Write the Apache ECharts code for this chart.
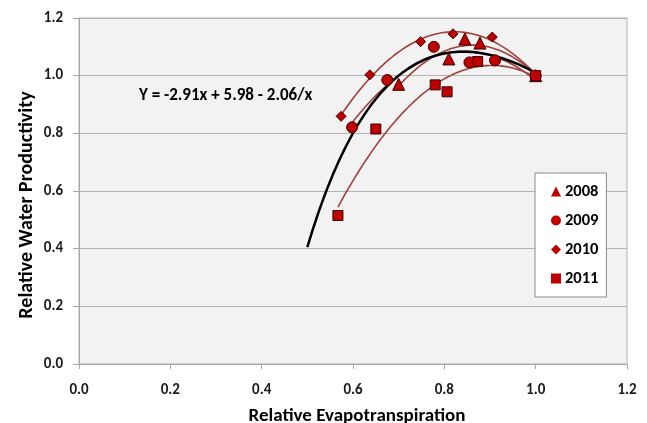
<!DOCTYPE html>
<html><head><meta charset="utf-8">
<script src="https://cdn.jsdelivr.net/npm/echarts@6/dist/echarts.min.js"></script>
<style>html,body{margin:0;padding:0;background:#fff}#c{width:647px;height:423px}</style>
</head><body><div id="c"></div>
<script>
const years = ['2008','2009','2010','2011'];
const et2008 = [0.70, 0.81, 0.845, 0.878, 1.0];
const wp2008 = [0.97, 1.058, 1.127, 1.113, 1.0];
const et2009 = [0.598, 0.675, 0.777, 0.855, 0.911, 1.0];
const wp2009 = [0.821, 0.985, 1.10, 1.046, 1.053, 1.0];
const et2010 = [0.574, 0.637, 0.748, 0.819, 0.905, 1.0];
const wp2010 = [0.859, 1.003, 1.118, 1.145, 1.134, 1.0];
const et2011 = [0.567, 0.650, 0.780, 0.806, 0.873, 1.0];
const wp2011 = [0.515, 0.815, 0.968, 0.944, 1.049, 1.0];
const xTicks = [0.0, 0.2, 0.4, 0.6, 0.8, 1.0, 1.2];
const yTicks = [0.0, 0.2, 0.4, 0.6, 0.8, 1.0, 1.2];
const xTitle = 'Relative Evapotranspiration';
const yTitle = 'Relative Water Productivity';
const eqText = 'Y = -2.91x + 5.98 - 2.06/x';
const eqCoef = [-2.91, 5.98, -2.06];
const eqRange = [0.5, 1.0];

function pairs(xs, ys){ return xs.map((x,i)=>[x, ys[i]]); }
// least-squares quadratic trendline (as Excel's polynomial trendline)
function quadFit(xs, ys){
  let S=[0,0,0,0,0], T=[0,0,0];
  xs.forEach((x,i)=>{ let p=1; for(let k=0;k<5;k++){S[k]+=p; if(k<3) T[k]+=p*ys[i]; p*=x;} });
  const A=[[S[0],S[1],S[2],T[0]],[S[1],S[2],S[3],T[1]],[S[2],S[3],S[4],T[2]]];
  for(let i=0;i<3;i++){ for(let j=i+1;j<3;j++){ const f=A[j][i]/A[i][i]; for(let k=i;k<4;k++) A[j][k]-=f*A[i][k]; } }
  const c=[0,0,0];
  for(let i=2;i>=0;i--){ let s=A[i][3]; for(let k=i+1;k<3;k++) s-=A[i][k]*c[k]; c[i]=s/A[i][i]; }
  return c;
}
function curve(xs, ys){
  const c=quadFit(xs,ys), lo=Math.min(...xs), hi=Math.max(...xs), out=[];
  for(let i=0;i<=60;i++){ const x=lo+(hi-lo)*i/60; out.push([x, c[0]+c[1]*x+c[2]*x*x]); }
  return out;
}
function eqCurve(){
  const out=[];
  for(let i=0;i<=80;i++){ const x=eqRange[0]+(eqRange[1]-eqRange[0])*i/80; out.push([x, eqCoef[0]*x+eqCoef[1]+eqCoef[2]/x]); }
  return out;
}
const sets = [[et2008,wp2008,'triangle',12],[et2009,wp2009,'circle',11],[et2010,wp2010,'diamond',10],[et2011,wp2011,'rect',10]];
const FONT = 'Carlito, Calibri, Lato, "Open Sans", sans-serif';
const series = [];
sets.forEach((s,i)=>{
  series.push({type:'line', data:curve(s[0],s[1]), showSymbol:false, symbol:'none', smooth:false,
    lineStyle:{color:'#a0413c', width:1.6}, z:2, silent:true});
});
series.push({type:'line', data:eqCurve(), symbol:'none', lineStyle:{color:'#000', width:2.5}, z:3, silent:true});
sets.forEach((s,i)=>{
  series.push({name:years[i], type:'scatter', data:pairs(s[0],s[1]), symbol:s[2], symbolSize:s[3],
    itemStyle:{color:'#c00000', borderColor:'#3a0000', borderWidth:1, opacity:1}, z:5});
});
const chart = echarts.init(document.getElementById('c'));
chart.setOption({
  animation:false,
  textStyle:{fontFamily:FONT},
  grid:{left:79, right:20, top:18, bottom:59, containLabel:false, outerBoundsMode:'none',
    show:true, backgroundColor:'#f2f2f2', borderColor:'#b3b3b3', borderWidth:1},
  xAxis:{type:'value', min:0, max:1.2, interval:0.2,
    name:xTitle, nameLocation:'middle', nameGap:43,
    nameTextStyle:{fontFamily:FONT, fontSize:19, fontWeight:'bold', color:'#000', padding:[0,0,0,8]},
    axisLine:{show:true, lineStyle:{color:'#a6a6a6'}}, axisTick:{show:true, length:5, lineStyle:{color:'#a6a6a6'}},
    splitLine:{show:false},
    axisLabel:{formatter:v=>v.toFixed(1), fontFamily:FONT, fontSize:15, fontWeight:'bold', color:'#1a1a1a', margin:19}},
  yAxis:{type:'value', min:0, max:1.2, interval:0.2,
    axisLine:{show:true, lineStyle:{color:'#a6a6a6'}}, axisTick:{show:true, length:6, lineStyle:{color:'#a6a6a6'}},
    splitLine:{show:true, lineStyle:{color:'#b3b3b3', width:1}},
    axisLabel:{formatter:v=>v.toFixed(1), fontFamily:FONT, fontSize:15, fontWeight:'bold', color:'#1a1a1a', margin:16}},
  legend:{data:years, orient:'vertical', left:535, top:173, width:65, height:115,
    backgroundColor:'#fff', borderColor:'#8c8c8c', borderWidth:1, padding:[10,8,10,16],
    itemGap:12, itemWidth:10, itemHeight:10, itemStyle:{borderWidth:0},
    textStyle:{fontFamily:FONT, fontSize:16.5, fontWeight:'bold', color:'#000', lineHeight:17, padding:[0,0,0,-1]}},
  graphic:[
    {type:'text', left:139, top:87, style:{text:eqText, font:'bold 17px '+FONT, fill:'#000'}},
    {type:'text', x:27, y:205, rotation:Math.PI/2,
     style:{text:yTitle, font:'bold 20px '+FONT, fill:'#000', align:'center', verticalAlign:'middle'}}
  ],
  series:series
});
</script></body></html>
